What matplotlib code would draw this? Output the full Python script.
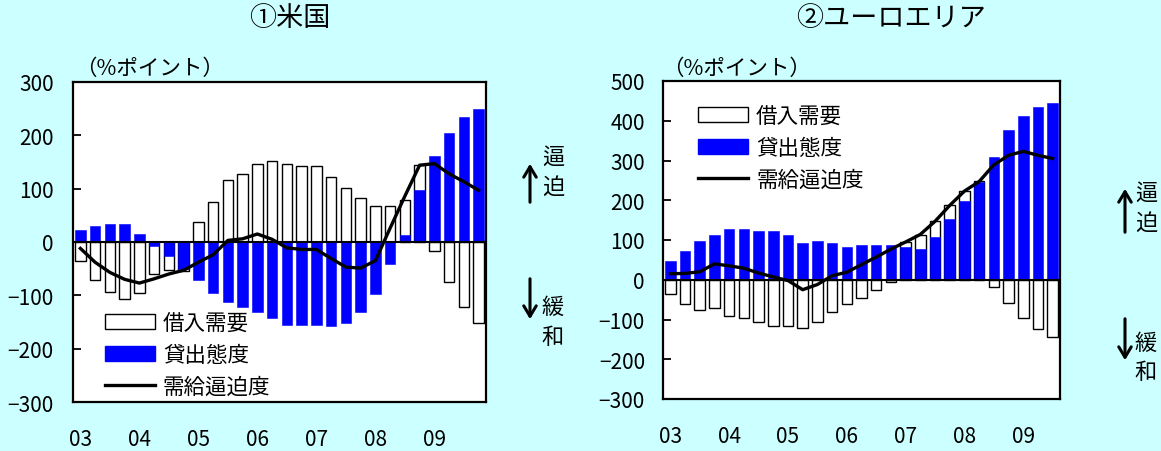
import matplotlib
matplotlib.use("Agg")
import matplotlib.pyplot as plt
import numpy as np
from matplotlib.lines import Line2D
from matplotlib.patches import Patch, FancyArrowPatch

plt.rcParams["font.family"] = ["Noto Sans CJK JP", "DejaVu Sans"]

# ---- data (quarterly, DI in % points) ----
# United States: 2003Q1 - 2009Q4
us_demand = [-35, -72, -94, -106, -95, -60, -53, -55, 37, 75, 117, 128, 147, 151,
             147, 143, 143, 122, 102, 83, 68, 68, 78, 144, -16, -75, -121, -151]
us_lending = [22, 30, 34, 34, 15, -8, -27, -51, -72, -95, -113, -121, -132, -143,
              -155, -155, -155, -158, -151, -132, -97, -41, 14, 97, 161, 204, 234, 250]
us_tightness = [-12, -38, -57, -70, -77, -69, -60, -53, -38, -24, 3, 6, 15, 5,
                -11, -14, -14, -31, -47, -49, -35, 26, 86, 144, 147, 128, 113, 97]

# Euro area: 2003Q1 - 2009Q3
eu_demand = [-35, -61, -76, -71, -91, -96, -106, -116, -116, -121, -106, -81, -61, -46,
             -26, -6, 96, 112, 149, 188, 223, 248, -18, -58, -95, -125, -145]
eu_lending = [46, 73, 98, 113, 128, 128, 123, 123, 113, 92, 97, 92, 82, 87,
              87, 87, 83, 77, 107, 153, 198, 247, 309, 376, 413, 434, 445]
eu_tightness = [15, 16, 20, 40, 35, 29, 17, 7, -2, -25, -12, 10, 19, 38,
                57, 77, 95, 114, 147, 187, 223, 247, 289, 313, 323, 313, 305]

year_labels = ["03", "04", "05", "06", "07", "08", "09"]
us_yticks = [-300, -200, -100, 0, 100, 200, 300]
eu_yticks = [-300, -200, -100, 0, 100, 200, 300, 400, 500]

series_names = ["借入需要", "貸出態度", "需給逼迫度"]

BG = "#CCFFFF"
BLUE = "#0000FF"

W, H = 1161, 452
fig = plt.figure(figsize=(W / 100, H / 100), dpi=100, facecolor=BG)


def fx(x):
    return x / W


def fy(y):
    return 1 - y / H


def make_axes(left, top, right, bottom):
    return fig.add_axes([fx(left), fy(bottom), (right - left) / W, (bottom - top) / H])


def draw_panel(ax, demand, lending, tightness, yticks, ypad):
    n = len(demand)
    x = np.arange(n)
    ax.bar(x, demand, width=0.72, color="white", edgecolor="black",
           linewidth=1.0, zorder=2)
    ax.bar(x, lending, width=0.72, color=BLUE, edgecolor=BLUE,
           linewidth=0.4, zorder=3)
    ax.axhline(0, color="black", lw=1.5, zorder=4)
    ax.plot(x, tightness, color="black", lw=2.4, zorder=5)
    ax.set_xlim(-0.5, n - 0.5)
    ax.set_ylim(yticks[0], yticks[-1])
    ax.set_yticks(yticks)
    ax.set_yticklabels([f"{v}".replace("-", "\u2212") for v in yticks])
    ax.set_xticks(x[::4])
    ax.set_xticklabels(year_labels)
    ax.tick_params(axis="x", length=0, pad=19, labelsize=15)
    ax.tick_params(axis="y", direction="in", length=6, width=1.3,
                   pad=ypad, labelsize=15)
    for s in ax.spines.values():
        s.set_linewidth(1.6)
    ax.set_facecolor("white")


ax_us = make_axes(73, 83, 486, 403)
ax_eu = make_axes(663, 82, 1060, 400)

draw_panel(ax_us, us_demand, us_lending, us_tightness, us_yticks, 14)
draw_panel(ax_eu, eu_demand, eu_lending, eu_tightness, eu_yticks, 13)

# titles and unit labels
fig.text(fx(290), fy(18), "①米国", ha="center", va="center", fontsize=19.5)
fig.text(fx(891), fy(18), "②ユーロエリア", ha="center", va="center", fontsize=19.5)
fig.text(fx(75), fy(69), "（%ポイント）", ha="left", va="center", fontsize=15.5)
fig.text(fx(662), fy(69), "（%ポイント）", ha="left", va="center", fontsize=15.5)

# legends
handles = [Patch(facecolor="white", edgecolor="black", linewidth=1.0),
           Patch(facecolor=BLUE, edgecolor=BLUE),
           Line2D([0], [0], color="black", lw=2.4)]


def add_legend(ax, left, top):
    ax.legend(handles, series_names, loc="upper left",
              bbox_to_anchor=(fx(left), fy(top)), bbox_transform=fig.transFigure,
              frameon=False, fontsize=15.5, handlelength=2.3, handleheight=0.7,
              handletextpad=0.4, labelspacing=0.45, borderpad=0, borderaxespad=0)


add_legend(ax_us, 105, 313)
add_legend(ax_eu, 698, 106)

# direction markers on the right side of each panel


def side_marker(x_arrow, up_from, up_to, dn_from, dn_to, x_text, y_up, y_dn):
    arrow_kw = dict(arrowstyle="->,head_length=0.5,head_width=0.3", lw=2.2,
                    color="black", mutation_scale=15, transform=fig.transFigure)
    fig.add_artist(FancyArrowPatch((fx(x_arrow), fy(up_from)),
                                   (fx(x_arrow), fy(up_to)), **arrow_kw))
    fig.add_artist(FancyArrowPatch((fx(x_arrow), fy(dn_from)),
                                   (fx(x_arrow), fy(dn_to)), **arrow_kw))
    for ch, yy in zip("逼迫", y_up):
        fig.text(fx(x_text), fy(yy), ch, ha="center", va="center", fontsize=16)
    for ch, yy in zip("緩和", y_dn):
        fig.text(fx(x_text), fy(yy), ch, ha="center", va="center", fontsize=16)


side_marker(530, 206, 162, 277, 323, 553, (157, 187), (307, 338))
side_marker(1125, 236, 187, 317, 364, 1146, (193, 223), (343, 373))

fig.savefig("out.png", dpi=100, facecolor=BG)
